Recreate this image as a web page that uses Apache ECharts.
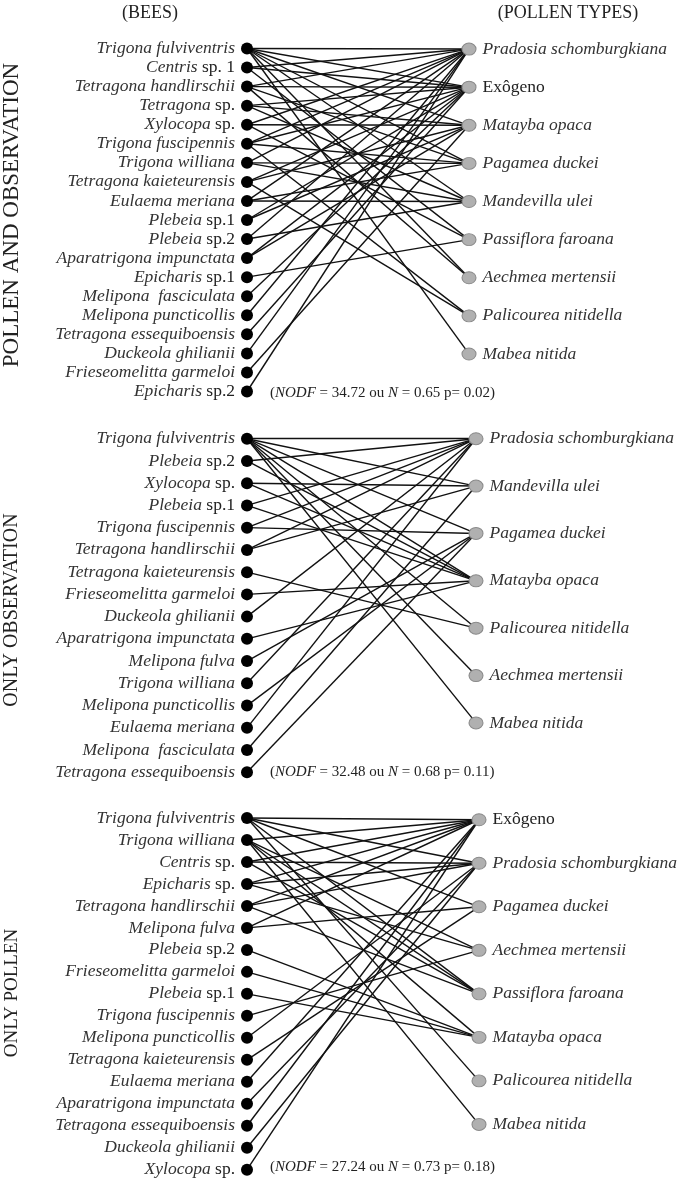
<!DOCTYPE html>
<html><head><meta charset="utf-8">
<script src="https://cdn.jsdelivr.net/npm/echarts@6/dist/echarts.min.js"></script>
<style>html,body{margin:0;padding:0;background:#fff}#c{width:685px;height:1183px}</style>
</head><body><div id="c"></div>
<script>
// ---------- DATA ----------
const headerBees = '(BEES)';
const headerPollen = '(POLLEN TYPES)';

const title1 = 'POLLEN AND OBSERVATION';
const bees1 = ['Trigona fulviventris','Centris sp. 1','Tetragona handlirschii','Tetragona sp.','Xylocopa sp.','Trigona fuscipennis','Trigona williana','Tetragona kaieteurensis','Eulaema meriana','Plebeia sp.1','Plebeia sp.2','Aparatrigona impunctata','Epicharis sp.1','Melipona  fasciculata','Melipona puncticollis','Tetragona essequiboensis','Duckeola ghilianii','Frieseomelitta garmeloi','Epicharis sp.2'];
const pollen1 = ['Pradosia schomburgkiana','Exôgeno','Matayba opaca','Pagamea duckei','Mandevilla ulei','Passiflora faroana','Aechmea mertensii','Palicourea nitidella','Mabea nitida'];
// for each bee: indices of pollen types it is linked to
const links1 = [[0,1,2,3,4,6,8],[0,1,5],[0,1,3,6],[1,2,4],[0,2,5],[0,1,3,7],[0,3,4],[1,2,7],[0,3,4],[1,2],[0,4],[1,2],[5],[1],[0],[1],[0],[2],[0]];
const stats1 = {nodf:'34.72', n:'0.65', p:'0.02'};

const title2 = 'ONLY OBSERVATION';
const bees2 = ['Trigona fulviventris','Plebeia sp.2','Xylocopa sp.','Plebeia sp.1','Trigona fuscipennis','Tetragona handlirschii','Tetragona kaieteurensis','Frieseomelitta garmeloi','Duckeola ghilianii','Aparatrigona impunctata','Melipona fulva','Trigona williana','Melipona puncticollis','Eulaema meriana','Melipona  fasciculata','Tetragona essequiboensis'];
const pollen2 = ['Pradosia schomburgkiana','Mandevilla ulei','Pagamea duckei','Matayba opaca','Palicourea nitidella','Aechmea mertensii','Mabea nitida'];
const links2 = [[0,1,2,3,4,5,6],[0,3],[1,3],[0,3],[0,2],[0,1],[4],[3],[0],[3],[2],[0],[2],[0],[1],[2]];
const stats2 = {nodf:'32.48', n:'0.68', p:'0.11'};

const title3 = 'ONLY POLLEN';
const bees3 = ['Trigona fulviventris','Trigona williana','Centris sp.','Epicharis sp.','Tetragona handlirschii','Melipona fulva','Plebeia sp.2','Frieseomelitta garmeloi','Plebeia sp.1','Trigona fuscipennis','Melipona puncticollis','Tetragona kaieteurensis','Eulaema meriana','Aparatrigona impunctata','Tetragona essequiboensis','Duckeola ghilianii','Xylocopa sp.'];
const pollen3 = ['Exôgeno','Pradosia schomburgkiana','Pagamea duckei','Aechmea mertensii','Passiflora faroana','Matayba opaca','Palicourea nitidella','Mabea nitida'];
const links3 = [[0,1,2,4,6],[0,3,4,5,7],[0,1,4],[0,1,3],[0,1,4],[0,2],[5],[5],[5],[3],[1],[2],[0],[1],[0],[1],[0]];
const stats3 = {nodf:'27.24', n:'0.73', p:'0.18'};

// ---------- LAYOUT ----------
const FONT = '"Liberation Serif", "DejaVu Serif", serif';
const LBL = 17.5;
const panels = [
  {title:title1, bees:bees1, pollen:pollen1, links:links1, stats:stats1, titleSize:23,
   beeX:247, polX:469, top:48.5, bottom:391.5, polStart:0.03, polStep:2.0, statY:393, titleY:215},
  {title:title2, bees:bees2, pollen:pollen2, links:links2, stats:stats2, titleSize:20,
   beeX:247, polX:476, top:438.7, bottom:772.3, polStart:0.0, polStep:2.13, statY:772, titleY:610},
  {title:title3, bees:bees3, pollen:pollen3, links:links3, stats:stats3, titleSize:19,
   beeX:247, polX:479, top:818, bottom:1169.7, polStart:0.08, polStep:1.98, statY:1167, titleY:993}
];

function beeLabel(name){
  const m = name.match(/^(\S+)( sp\..*)$/);
  if (m) return '{i|' + m[1] + '}{n|' + m[2] + '}';
  return '{i|' + name + '}';
}
function pollenLabel(name){
  if (name === 'Exôgeno') return '{n|' + name + '}';
  return '{i|' + name + '}';
}
const rich = {
  i:{fontFamily:FONT, fontSize:LBL, fontStyle:'italic', color:'#333'},
  n:{fontFamily:FONT, fontSize:LBL, fontStyle:'normal', color:'#222'}
};

const grids = [], xAxes = [], yAxes = [], series = [], graphic = [];
panels.forEach((p, k) => {
  const nb = p.bees.length;
  grids.push({left:p.beeX, top:p.top, width:p.polX - p.beeX, height:p.bottom - p.top});
  xAxes.push({gridIndex:k, type:'value', min:0, max:1, show:false});
  yAxes.push({gridIndex:k, type:'value', min:0, max:nb - 1, inverse:true, show:false});
  const py = j => p.polStart + j * p.polStep;
  const lineData = [];
  p.links.forEach((arr, b) => arr.forEach(j => lineData.push({coords:[[0, b], [1, py(j)]]})));
  series.push({
    type:'lines', coordinateSystem:'cartesian2d', xAxisIndex:k, yAxisIndex:k, clip:false, z:1,
    silent:true, lineStyle:{color:'#111', width:1.4, opacity:1}, data:lineData
  });
  series.push({
    type:'scatter', xAxisIndex:k, yAxisIndex:k, clip:false, z:3, symbolSize:12,
    itemStyle:{color:'#000', opacity:1},
    label:{show:true, position:'left', distance:6, formatter:d => beeLabel(d.name), rich:rich},
    data:p.bees.map((n, b) => ({name:n, value:[0, b]}))
  });
  series.push({
    type:'scatter', xAxisIndex:k, yAxisIndex:k, clip:false, z:3, symbolSize:[14,12],
    itemStyle:{color:'#b0b0b0', borderColor:'#8a8a8a', borderWidth:1, opacity:1},
    label:{show:true, position:'right', distance:6, formatter:d => pollenLabel(d.name), rich:rich},
    data:p.pollen.map((n, j) => ({name:n, value:[1, py(j)]}))
  });
  graphic.push({
    type:'text', x:12, y:p.titleY, rotation:Math.PI/2,
    style:{text:p.title, fontFamily:FONT, fontSize:p.titleSize, fill:'#222', align:'center', verticalAlign:'middle'}
  });
  graphic.push({
    type:'text', x:270, y:p.statY,
    style:{text:'({i|NODF} = ' + p.stats.nodf + ' ou {i|N} = ' + p.stats.n + ' p= ' + p.stats.p + ')',
      fontFamily:FONT, fontSize:15, fill:'#222', align:'left', verticalAlign:'middle',
      rich:{i:{fontFamily:FONT, fontSize:15, fontStyle:'italic', fill:'#222'}}}
  });
});
graphic.push({type:'text', x:150, y:13, style:{text:headerBees, fontFamily:FONT, fontSize:18, fill:'#222', align:'center', verticalAlign:'middle'}});
graphic.push({type:'text', x:568, y:13, style:{text:headerPollen, fontFamily:FONT, fontSize:18, fill:'#222', align:'center', verticalAlign:'middle'}});

const chart = echarts.init(document.getElementById('c'), null, {renderer:'canvas'});
chart.setOption({
  backgroundColor:'#fff', animation:false,
  grid:grids, xAxis:xAxes, yAxis:yAxes, series:series, graphic:graphic
});
</script>
</body></html>
